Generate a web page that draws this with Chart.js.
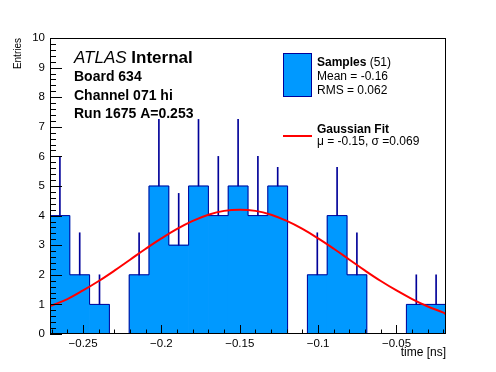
<!DOCTYPE html>
<html>
<head>
<meta charset="utf-8">
<script src="https://cdn.jsdelivr.net/npm/chart.js@4.4.1/dist/chart.umd.min.js"></script>
<style>
  html, body { margin: 0; padding: 0; background: #fff; }
</style>
</head>
<body>
<canvas id="c" width="496" height="372"></canvas>
<script>
// histogram range and contents
const xMin = -0.2711;
const xMax = -0.0184;
const counts = [4, 2, 1, 0, 2, 5, 3, 5, 4, 5, 4, 5, 0, 2, 4, 2, 0, 0, 1, 1];
const errors = [2.0, 1.42, 1.0, 0, 1.42, 2.25, 1.75, 2.25, 2.0, 2.25, 2.0, 0.63, 0, 1.42, 1.63, 1.42, 0, 0, 1.0, 1.0];

// gaussian fit
const fitX = [-0.271, -0.26, -0.25, -0.24, -0.23, -0.22, -0.21, -0.2, -0.19, -0.18, -0.17, -0.16, -0.15,
  -0.14, -0.13, -0.12, -0.11, -0.1, -0.09, -0.08, -0.07, -0.06, -0.05, -0.04, -0.03, -0.02, -0.0184];
const fitY = [0.94, 1.18, 1.47, 1.79, 2.14, 2.51, 2.88, 3.23, 3.55, 3.82, 4.03, 4.16, 4.2,
  4.16, 4.03, 3.82, 3.55, 3.23, 2.88, 2.51, 2.14, 1.79, 1.47, 1.18, 0.93, 0.72, 0.66];

const xTicks = [-0.25, -0.2, -0.15, -0.1, -0.05];
const yTicks = [0, 1, 2, 3, 4, 5, 6, 7, 8, 9, 10];

const FILL = '#0099ff';
const EDGE = '#000099';
const FONT = '"Liberation Sans", Arial, Helvetica, sans-serif';

const binW = (xMax - xMin) / counts.length;
const centers = counts.map((c, i) => xMin + (i + 0.5) * binW);

const histData = counts.map((c, i) => ({ x: centers[i], y: c }));
const errData = counts.map((c, i) => ({ x: centers[i], y: [c, c + errors[i]] }));
const outline = [{ x: xMin, y: 0 }];
counts.forEach((c, i) => outline.push({ x: xMin + i * binW, y: c }));
outline.push({ x: xMax, y: 0 });
const fitData = fitX.map((x, i) => ({ x: x, y: fitY[i] }));

// ROOT-like frame, inner ticks and texts
const rootDecor = {
  id: 'rootDecor',
  afterDatasetsDraw(chart) {
    const ctx = chart.ctx;
    const a = chart.chartArea;
    const xs = chart.scales.x, ys = chart.scales.y;
    ctx.save();
    ctx.strokeStyle = '#000';
    ctx.lineWidth = 1;
    ctx.beginPath();
    // y ticks every 0.2
    for (let k = 0; k <= 50; k++) {
      const py = Math.round(ys.getPixelForValue(k * 0.2)) + 0.5;
      const len = k % 5 === 0 ? 12 : 6;
      ctx.moveTo(a.left, py);
      ctx.lineTo(a.left + len, py);
    }
    // x ticks every 0.01
    for (let k = -27; k <= -2; k++) {
      const v = k / 100;
      const px = Math.round(xs.getPixelForValue(v)) + 0.5;
      const len = k % 5 === 0 ? 9 : 4.5;
      ctx.moveTo(px, a.bottom);
      ctx.lineTo(px, a.bottom - len);
    }
    ctx.stroke();
    ctx.strokeRect(Math.round(a.left) + 0.5, Math.round(a.top) + 0.5,
      Math.round(a.right - a.left) - 1, Math.round(a.bottom - a.top) - 1);
    ctx.restore();
  },
  afterDraw(chart) {
    const ctx = chart.ctx;
    ctx.save();
    ctx.fillStyle = '#000';
    ctx.textBaseline = 'alphabetic';
    ctx.textAlign = 'left';

    // ATLAS label block
    ctx.font = 'italic 17px ' + FONT;
    ctx.fillText('ATLAS', 74, 63);
    let w = ctx.measureText('ATLAS ').width;
    ctx.font = 'bold 17px ' + FONT;
    ctx.fillText('Internal', 74 + w, 63);
    ctx.font = 'bold 14px ' + FONT;
    ctx.fillText('Board 634', 74, 81);
    ctx.fillText('Channel 071 hi', 74, 99.5);
    ctx.fillText('Run 1675 A=0.253', 74, 118);

    // legend
    ctx.fillStyle = FILL;
    ctx.fillRect(283.5, 53.5, 28, 43);
    ctx.strokeStyle = EDGE;
    ctx.lineWidth = 1;
    ctx.strokeRect(283.5, 53.5, 28, 43);
    ctx.strokeStyle = '#ff0000';
    ctx.lineWidth = 2;
    ctx.beginPath();
    ctx.moveTo(283, 136);
    ctx.lineTo(312, 136);
    ctx.stroke();

    ctx.fillStyle = '#000';
    ctx.font = 'bold 12px ' + FONT;
    ctx.fillText('Samples', 317, 66);
    w = ctx.measureText('Samples').width;
    ctx.font = '12px ' + FONT;
    ctx.fillText(' (51)', 317 + w, 66);
    ctx.fillText('Mean = -0.16', 317, 80);
    ctx.fillText('RMS = 0.062', 317, 94);
    ctx.font = 'bold 12px ' + FONT;
    ctx.fillText('Gaussian Fit', 317, 133);
    ctx.font = '12px ' + FONT;
    ctx.fillText('\u03bc = -0.15, \u03c3 =0.069', 317, 144.5);
    ctx.restore();
  }
};

new Chart(document.getElementById('c'), {
  type: 'bar',
  data: {
    datasets: [
      {
        type: 'line',
        data: fitData,
        borderColor: '#ff0000',
        borderWidth: 2,
        pointRadius: 0,
        tension: 0.4,
        order: 0
      },
      {
        type: 'line',
        data: outline,
        borderColor: EDGE,
        borderWidth: 1,
        pointRadius: 0,
        stepped: true,
        order: 1
      },
      {
        data: errData,
        backgroundColor: EDGE,
        barThickness: 1,
        grouped: false,
        order: 2
      },
      {
        data: histData,
        backgroundColor: FILL,
        borderWidth: 0,
        barPercentage: 1,
        categoryPercentage: 1,
        grouped: false,
        order: 3
      }
    ]
  },
  options: {
    responsive: false,
    animation: false,
    events: [],
    layout: { padding: { left: 0, right: 50, top: 38, bottom: 0 } },
    plugins: {
      legend: { display: false },
      tooltip: { enabled: false }
    },
    scales: {
      x: {
        type: 'linear',
        min: xMin,
        max: xMax,
        offset: false,
        grid: { display: false, drawTicks: false, offset: false },
        border: { display: false },
        afterBuildTicks: s => { s.ticks = xTicks.map(v => ({ value: v })); },
        afterFit: s => { s.height = 38; },
        ticks: {
          autoSkip: false,
          maxRotation: 0,
          padding: 3,
          color: '#000',
          font: { family: FONT, size: 11.5 },
          callback: v => (v < 0 ? '\u2212' : '') + Math.abs(v)
        },
        title: {
          display: true,
          text: 'time [ns]',
          align: 'end',
          color: '#000',
          font: { family: FONT, size: 12 },
          padding: { top: 0, bottom: 12 }
        }
      },
      y: {
        min: 0,
        max: 10,
        grid: { display: false, drawTicks: false },
        border: { display: false },
        afterBuildTicks: s => { s.ticks = yTicks.map(v => ({ value: v })); },
        afterFit: s => { s.width = 50; },
        ticks: {
          padding: 5,
          color: '#000',
          font: { family: FONT, size: 11.5 }
        },
        title: {
          display: true,
          text: 'Entries',
          align: 'end',
          color: '#000',
          font: { family: FONT, size: 10 },
          padding: { top: 12, bottom: 0 }
        }
      }
    }
  },
  plugins: [rootDecor]
});
</script>
</body>
</html>
